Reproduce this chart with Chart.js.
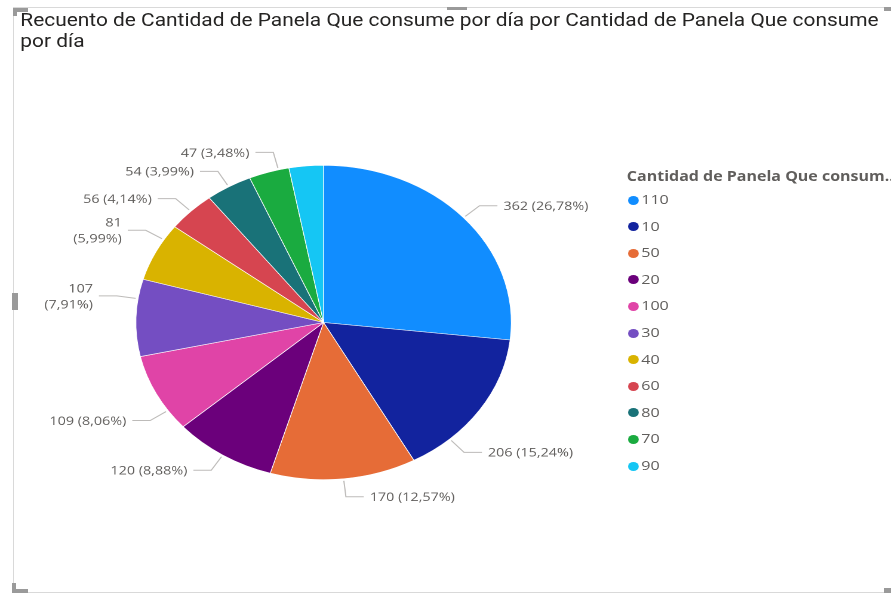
<!DOCTYPE html>
<html lang="es">
<head>
<meta charset="utf-8">
<title>Recuento de Cantidad de Panela Que consume por día</title>
<script src="https://cdn.jsdelivr.net/npm/chart.js@4.4.1/dist/chart.umd.min.js"></script>
<style>
  html, body { margin: 0; padding: 0; background: #fff; }
  body { width: 891px; height: 595px; overflow: hidden; position: relative; }
  /* the reference is stretched sideways, so the whole visual is drawn narrow and widened */
  #stage { position: absolute; left: 0; top: 0; width: 746px; height: 595px;
           transform-origin: 0 0; transform: scaleX(1.194); }
  #title { position: absolute; left: 17px; top: 10px; margin: 0; font: 400 17.5px Roboto, sans-serif;
           line-height: 21px; color: #252423; white-space: nowrap; }
  #pie { position: absolute; left: 0; top: 0; }
  #legend { position: absolute; left: 525px; top: 0; font-family: "Open Sans", sans-serif; }
  #legend .head { position: absolute; left: 0; top: 166px; height: 20px; line-height: 20px;
                  font-size: 13.4px; font-weight: 700; color: #605E5C; white-space: nowrap; }
  #legend .item { position: absolute; left: 1px; height: 20px; line-height: 20px;
                  font-size: 13.5px; color: #605E5C; white-space: nowrap; }
  #legend .dot { display: inline-block; width: 9px; height: 9px; border-radius: 50%;
                 margin-right: 2px; vertical-align: -0.5px; }
  .frame { position: absolute; background: #d9d9d9; }
  .grip { position: absolute; background: #9a9a9a; }
</style>
</head>
<body>
<div class="frame" style="left:13px;top:7px;width:878px;height:1px"></div>
<div class="frame" style="left:13px;top:7px;width:1px;height:586px"></div>
<div class="frame" style="left:13px;top:592px;width:878px;height:1px"></div>
<div class="grip" style="left:13px;top:8px;width:15px;height:4px"></div>
<div class="grip" style="left:13px;top:8px;width:4px;height:8px"></div>
<div class="grip" style="left:447px;top:7px;width:20px;height:3px"></div>
<div class="grip" style="left:884px;top:7px;width:7px;height:4px"></div>
<div class="grip" style="left:12px;top:293px;width:6px;height:17px"></div>
<div class="grip" style="left:12px;top:583px;width:4px;height:10px"></div>
<div class="grip" style="left:12px;top:589px;width:16px;height:4px"></div>
<div class="grip" style="left:884px;top:588px;width:7px;height:5px"></div>

<div id="stage">
  <p id="title">Recuento de Cantidad de Panela Que consume por día por Cantidad de Panela Que consume<br>por día</p>
  <canvas id="pie" width="746" height="595"></canvas>
  <div id="legend"></div>
</div>

<script>
const legendTitle = "Cantidad de Panela Que consum..";
const categories = ["110", "10", "50", "20", "100", "30", "40", "60", "80", "70", "90"];
const counts = [362, 206, 170, 120, 109, 107, 81, 56, 54, 47, 40];
const colors = ["#118DFF", "#12239E", "#E66C37", "#6B007B", "#E044A7", "#744EC2",
                "#D9B300", "#D64550", "#197278", "#1AAB40", "#15C6F4"];

// data labels with elbow leader lines, Power BI style
const sliceLabels = {
  id: "sliceLabels",
  afterDatasetsDraw(chart, args, opts) {
    const ctx = chart.ctx;
    const meta = chart.getDatasetMeta(0);
    const values = chart.data.datasets[0].data;
    const total = values.reduce((a, b) => a + b, 0);
    ctx.save();
    ctx.font = opts.font;
    ctx.fillStyle = opts.color;
    ctx.strokeStyle = opts.lineColor;
    ctx.lineWidth = 1;
    ctx.textBaseline = "middle";
    meta.data.forEach((arc, i) => {
      const pct = values[i] / total * 100;
      if (pct < opts.minPct) return;
      const a = (arc.startAngle + arc.endAngle) / 2 + (opts.shift[i] || 0) * Math.PI / 180;
      const cos = Math.cos(a), sin = Math.sin(a);
      const r = arc.outerRadius + 2;
      const x0 = arc.x + cos * r, y0 = arc.y + sin * r;
      const x1 = x0 + cos * opts.elbow, y1 = y0 + sin * opts.elbow;
      const dir = cos >= 0 ? 1 : -1;
      const x2 = x1 + dir * opts.run;
      ctx.beginPath();
      ctx.moveTo(x0, y0);
      ctx.lineTo(x1, y1);
      ctx.lineTo(x2, y1);
      ctx.stroke();
      const num = String(values[i]);
      const share = "(" + pct.toFixed(2).replace(".", ",") + "%)";
      const tx = x2 + dir * opts.gap;
      const ty = y1 + 1;
      ctx.textAlign = dir > 0 ? "left" : "right";
      if (opts.wrap.includes(i)) {
        ctx.fillText(num, tx, ty - 8);
        ctx.fillText(share, tx, ty + 8);
      } else {
        ctx.fillText(num + " " + share, tx, ty);
      }
    });
    ctx.restore();
  }
};

const chart = new Chart(document.getElementById("pie"), {
  type: "pie",
  data: {
    labels: categories,
    datasets: [{
      data: counts,
      backgroundColor: colors,
      borderColor: "#ffffff",
      borderWidth: 0.6,
      hoverOffset: 0
    }]
  },
  options: {
    responsive: false,
    animation: false,
    devicePixelRatio: 2,
    layout: { padding: { top: 165, bottom: 115, left: 113.5, right: 317.5 } },
    plugins: {
      legend: { display: false },
      tooltip: { enabled: false },
      sliceLabels: {
        font: '12px "Segoe UI", "Open Sans", sans-serif',
        color: "#605E5C",
        lineColor: "#bdbbb9",
        minPct: 3.2,
        elbow: 16,
        run: 15,
        gap: 5,
        wrap: [5, 6],
        shift: { 1: 14, 4: -7, 5: 7, 6: 5, 9: 3 }
      }
    }
  },
  plugins: [sliceLabels]
});

// legend built from the chart's own data
const legend = document.getElementById("legend");
const head = document.createElement("div");
head.className = "head";
head.textContent = legendTitle;
legend.appendChild(head);
categories.forEach((cat, i) => {
  const item = document.createElement("div");
  item.className = "item";
  item.style.top = (189 + i * 26.6) + "px";
  const dot = document.createElement("span");
  dot.className = "dot";
  dot.style.background = colors[i];
  item.appendChild(dot);
  item.appendChild(document.createTextNode(cat));
  legend.appendChild(item);
});
</script>
</body>
</html>
